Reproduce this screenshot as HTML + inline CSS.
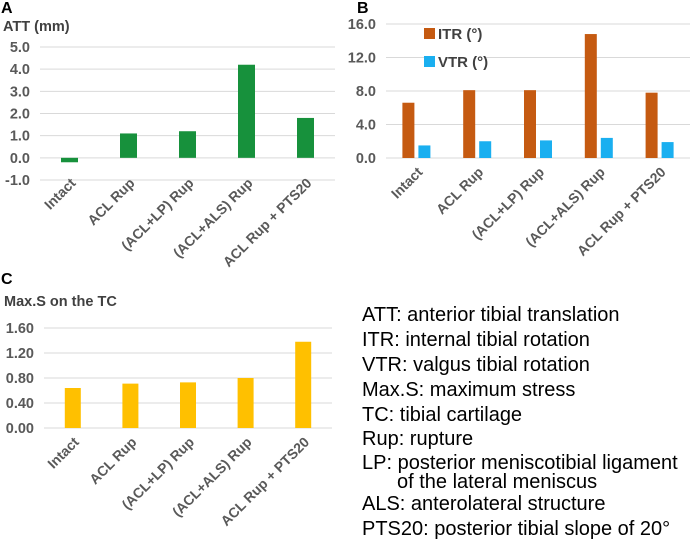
<!DOCTYPE html>
<html><head><meta charset="utf-8">
<style>
body{margin:0;background:#fff;}
svg{display:block;font-family:"Liberation Sans",Arial,sans-serif;}
.tick{font-size:14.5px;font-weight:bold;fill:#595959;}
.xl{font-size:14px;font-weight:bold;fill:#595959;}
.grid{stroke:#d9d9d9;stroke-width:1;}
.panel{font-size:16px;font-weight:bold;fill:#000;}
.ttl{font-size:14.5px;font-weight:bold;fill:#404040;}
.note{font-size:20px;fill:#000;}
</style></head>
<body>
<svg id="chart" width="692" height="541">
<text class="panel" x="1" y="13">A</text>
<text class="ttl" x="3" y="31">ATT (mm)</text>
<text class="panel" x="357" y="13">B</text>
<text class="panel" x="1" y="284">C</text>
<text class="ttl" x="4" y="306">Max.S on the TC</text>
<g>
<text class="note" x="362" y="321">ATT: anterior tibial translation</text>
<text class="note" x="362" y="346">ITR: internal tibial rotation</text>
<text class="note" x="362" y="371">VTR: valgus tibial rotation</text>
<text class="note" x="362" y="396">Max.S: maximum stress</text>
<text class="note" x="362" y="421">TC: tibial cartilage</text>
<text class="note" x="362" y="445">Rup: rupture</text>
<text class="note" x="362" y="469">LP: posterior meniscotibial ligament</text>
<text class="note" x="397" y="488">of the lateral meniscus</text>
<text class="note" x="362" y="510">ALS: anterolateral structure</text>
<text class="note" x="362" y="535">PTS20: posterior tibial slope of 20°</text>
</g>
</svg>
<script>
const categories = ["Intact","ACL Rup","(ACL+LP) Rup","(ACL+ALS) Rup","ACL Rup + PTS20"];
const attValues = [-0.2, 1.1, 1.2, 4.2, 1.8];
const attTicks = [-1, 0, 1, 2, 3, 4, 5];
const itrValues = [6.6, 8.1, 8.1, 14.8, 7.8];
const vtrValues = [1.5, 2.0, 2.1, 2.4, 1.9];
const rotTicks = [0, 4, 8, 12, 16];
const maxsValues = [0.64, 0.71, 0.73, 0.80, 1.38];
const maxsTicks = [0, 0.4, 0.8, 1.2, 1.6];

const svg = document.getElementById('chart');
const NS = 'http://www.w3.org/2000/svg';
function mk(tag, attrs, parent){const e=document.createElementNS(NS,tag);for(const k in attrs)e.setAttribute(k,attrs[k]);(parent||svg).appendChild(e);return e;}

function drawChart(cfg){
  const g = mk('g',{});
  
  
  const y = v => cfg.y0 - (v - cfg.vmin)/(cfg.vmax - cfg.vmin)*(cfg.y0 - cfg.y1);
  const band = (cfg.x1 - cfg.x0)/categories.length;
  const xc = i => cfg.x0 + band*(i+0.5);
  cfg.ticks.forEach(t=>{
    const l = mk('line',{x1:cfg.x0,x2:cfg.x1,y1:y(t),y2:y(t),class:'grid'},g);
    
    
    const tx = mk('text',{x:cfg.x0-10,y:y(t)+5,'text-anchor':'end',class:'tick'},g);
    tx.textContent = t.toFixed(cfg.dec);
    
    
  });
  cfg.series.forEach(s=>{
    s.values.forEach((v,i)=>{
      const cx = xc(i) + s.off;
      const top = Math.min(y(v), y(0)), h = Math.abs(y(v)-y(0));
      const r = mk('rect',{x:cx - s.w/2, y:top, width:s.w, height:h, fill:s.color},g);
      
      
    });
  });
  categories.forEach((c,i)=>{
    const px = xc(i)+7, py = cfg.labY;
    const tx = mk('text',{x:px,y:py,'text-anchor':'end',class:'xl',transform:`rotate(-45 ${px} ${py})`},g);
    tx.textContent = c;
    
    
  });
}
drawChart({name:'chart-a-att', x0:40, x1:335, y0:180, y1:47, vmin:-1, vmax:5, ticks:attTicks, dec:1, labY:184,
  series:[{values:attValues, color:'#17913c', w:17, off:0}]});
drawChart({name:'chart-b-rotation', x0:386, x1:690, y0:158, y1:24, vmin:0, vmax:16, ticks:rotTicks, dec:1, labY:173,
  series:[{values:itrValues, color:'#c55a11', w:12, off:-8},{values:vtrValues, color:'#1aaff0', w:12, off:8}]});
drawChart({name:'chart-c-maxs', x0:44, x1:332, y0:428, y1:328, vmin:0, vmax:1.6, ticks:maxsTicks, dec:2, labY:443,
  series:[{values:maxsValues, color:'#ffc000', w:16, off:0}]});

// legend for chart B drawn on top of gridlines
const lg = mk('g',{});


mk('rect',{x:424,y:26,width:60,height:46,fill:'#fff'},lg);
const s1 = mk('rect',{x:424,y:28,width:11,height:11,fill:'#c55a11'},lg);


const t1 = mk('text',{x:438,y:39,'font-size':15,'font-weight':'bold',fill:'#404040'},lg);
t1.textContent = 'ITR (°)';


const s2 = mk('rect',{x:424,y:56,width:11,height:11,fill:'#1aaff0'},lg);


const t2 = mk('text',{x:438,y:67,'font-size':15,'font-weight':'bold',fill:'#404040'},lg);
t2.textContent = 'VTR (°)';


</script>
</body></html>
